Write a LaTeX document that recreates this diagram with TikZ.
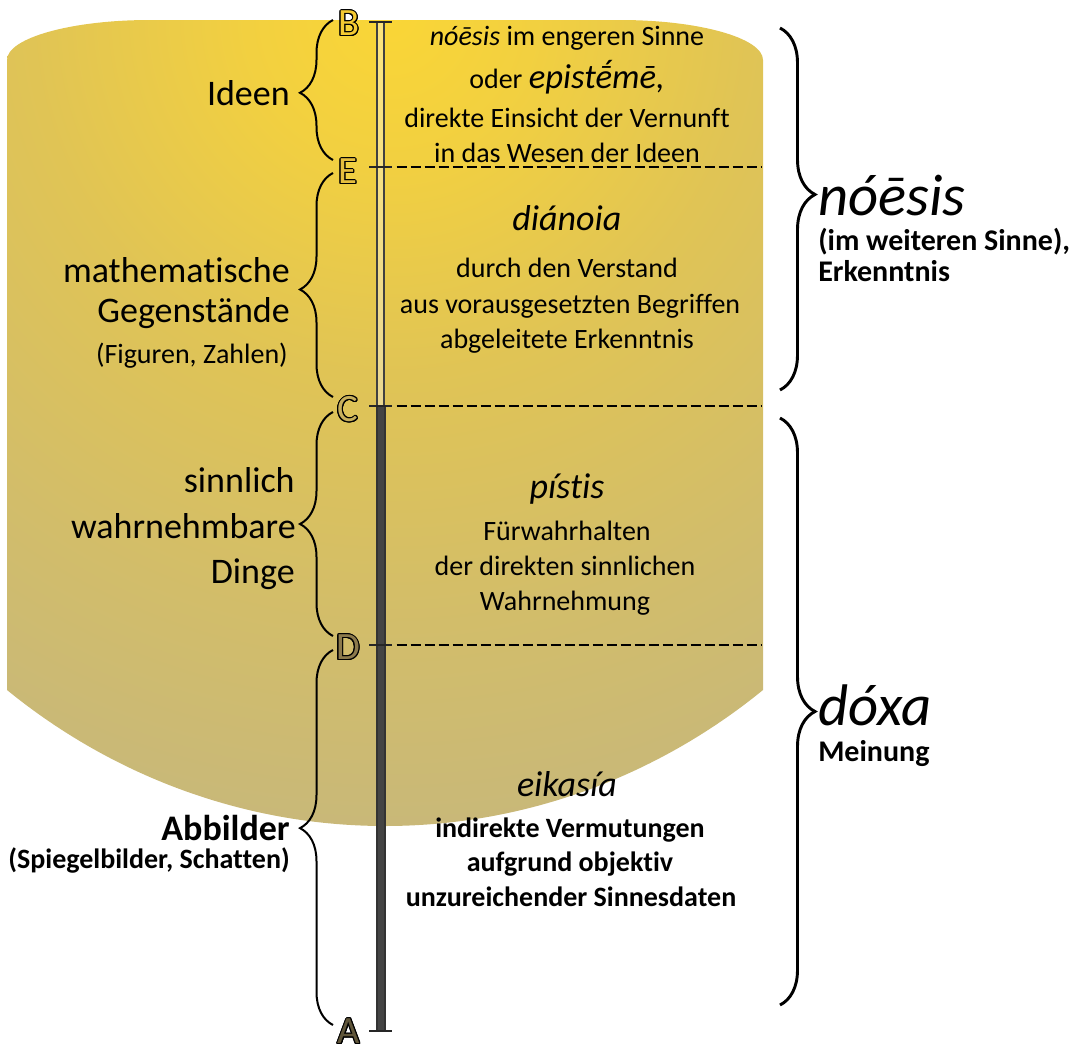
\documentclass[tikz,border=0pt]{standalone}
\usepackage{fontspec}
\setmainfont{Carlito}[Ligatures=NoCommon]
\usepackage{contour}
\contourlength{0.8pt}
\usetikzlibrary{decorations.pathreplacing}
\definecolor{g0}{RGB}{250,214,54}
\definecolor{g1}{RGB}{242,208,64}
\definecolor{g2}{RGB}{224,196,85}
\definecolor{g3}{RGB}{210,189,106}
\definecolor{g4}{RGB}{198,183,124}
\definecolor{g5}{RGB}{189,177,137}
\definecolor{g6}{RGB}{182,173,144}
\definecolor{bfill}{RGB}{245,202,50}
\definecolor{efill}{RGB}{230,190,62}
\definecolor{cfill}{RGB}{200,176,92}
\definecolor{dfill}{RGB}{140,122,76}
\definecolor{afill}{RGB}{96,86,58}
\definecolor{barcol}{RGB}{68,68,68}
\pgfdeclareradialshading{bgshade}{\pgfpoint{0bp}{0bp}}{color(0bp)=(g0); color(4bp)=(g1); color(10bp)=(g2); color(17bp)=(g3); color(24bp)=(g4); color(32bp)=(g5); color(41bp)=(g6); color(50bp)=(g6)}
\begin{document}
\begin{tikzpicture}[x=0.75pt,y=-0.75pt,
  body/.style={font=\fontsize{21}{25}\selectfont, anchor=base, inner sep=0pt},
  bodyb/.style={font=\fontsize{21}{25}\selectfont\bfseries, anchor=base, inner sep=0pt},
  head/.style={font=\fontsize{27}{32}\selectfont\itshape, anchor=base, inner sep=0pt},
  lab/.style={font=\fontsize{27}{32}\selectfont, anchor=base east, inner sep=0pt},
  sublab/.style={font=\fontsize{21}{25}\selectfont, anchor=base east, inner sep=0pt},
  big/.style={font=\fontsize{44}{50}\selectfont\itshape, anchor=base west, inner sep=0pt},
  rsub/.style={font=\fontsize{22.5}{26}\selectfont\bfseries, anchor=base west, inner sep=0pt},
  letter/.style={font=\fontsize{29}{32}\selectfont, inner sep=0pt},
  lbrace/.style={decorate, decoration={brace, amplitude=24.75pt}, line width=1.5pt},
  rbrace/.style={decorate, decoration={brace, amplitude=26.25pt}, line width=2.2pt},
  tick/.style={line width=1.2pt, draw=black!85},
  sep/.style={dash pattern=on 7.5pt off 3pt, line width=0.8pt},
  sepc/.style={dash pattern=on 7.5pt off 3pt, line width=1.5pt}]
\useasboundingbox (0,0) rectangle (1083,1046);
% background shape
\begin{scope}
\clip (7,60) .. controls (7,38) and (71,20) .. (150,20) -- (620,20)
  .. controls (699,20) and (763,38) .. (763,60) -- (763,690)
  .. controls (655.9,777.3) and (523.2,826) .. (385,826)
  .. controls (246.8,826) and (114.1,777.3) .. (7,690) -- cycle;
\shade[shading=bgshade] (390,15) circle (900);
\end{scope}
% scale bar
\coordinate (tB) at (380.5,22);
\coordinate (tE) at (380.5,167);
\coordinate (tC) at (380.5,406);
\coordinate (tD) at (380.5,645);
\coordinate (tA) at (380.5,1031);
\draw[line width=1pt, draw=black!75, fill=white, fill opacity=0.35] (377,22) rectangle (384,406);
\draw[line width=1pt, draw=black!80, fill=barcol] (377,406) rectangle (385,1031);
\foreach \t in {tB,tE,tC,tD,tA} \draw[tick] ([xshift=-8.5pt]\t) -- ([xshift=8.5pt]\t);
% dashed separators
\coordinate (eR) at (762,167);
\coordinate (cR) at (762,406);
\coordinate (dR) at (762,645);
\draw[sep] ([xshift=12pt]tE) -- (eR);
\draw[sepc] ([xshift=12pt]tC) -- (cR);
\draw[sep] ([xshift=12pt]tD) -- (dR);
% letters
\node[letter, text=bfill] (B) at (349,24) {\contour{black}{B}};
\node[letter, text=efill] (E) at (348,172) {\contour{black}{E}};
\node[letter, text=cfill] (C) at (348,410) {\contour{black}{C}};
\node[letter, text=dfill] (D) at (348,648) {\contour{black}{D}};
\node[letter, text=afill] (A) at (349,1032) {\contour{black}{A}};
% left braces
\coordinate (l1a) at (333,160); \coordinate (l1b) at (333,20);
\coordinate (l2a) at (333,397); \coordinate (l2b) at (333,173);
\coordinate (l3a) at (333,636); \coordinate (l3b) at (333,412);
\coordinate (l4a) at (333,1025); \coordinate (l4b) at (333,650);
\draw[lbrace, decoration={aspect=0.48}] (l1a) -- (l1b);
\draw[lbrace, decoration={aspect=0.48}] (l2a) -- (l2b);
\draw[lbrace, decoration={aspect=0.5}] (l3a) -- (l3b);
\draw[lbrace, decoration={aspect=0.525}] (l4a) -- (l4b);
% right braces
\coordinate (r1a) at (780,28); \coordinate (r1b) at (780,390);
\coordinate (r2a) at (780,418); \coordinate (r2b) at (780,1005);
\draw[rbrace, decoration={aspect=0.46}] (r1a) -- (r1b);
\draw[rbrace, decoration={aspect=0.5}] (r2a) -- (r2b);
% left labels
\node[lab] (ideen) at (290,105) {Ideen};
\node[lab] (math1) at (290,282) {mathematische};
\node[lab] (math2) at (290,322) {Gegenstände};
\node[sublab] (math3) at (288,363) {(Figuren, Zahlen)};
\node[lab] (sin1) at (295,492) {sinnlich};
\node[lab] (sin2) at (296,538) {wahrnehmbare};
\node[lab] (sin3) at (295,583) {Dinge};
\node[lab, font=\fontsize{27}{32}\selectfont\bfseries] (abb1) at (290,840) {Abbilder};
\node[sublab, font=\fontsize{21}{25}\selectfont\bfseries] (abb2) at (290,868) {(Spiegelbilder, Schatten)};
% centre texts
\node[body] (n1) at (567,45) {\textit{nóēsis} im engeren Sinne};
\node[body] (n2) at (567,88) {oder {\fontsize{26}{30}\selectfont\itshape epistḗmē,}};
\node[body] (n3) at (567,127) {direkte Einsicht der Vernunft};
\node[body] (n4) at (567,162) {in das Wesen der Ideen};
\node[head] (di0) at (567,230) {diánoia};
\node[body] (di1) at (567,277) {durch den Verstand};
\node[body] (di2) at (570,313) {aus vorausgesetzten Begriffen};
\node[body] (di3) at (567,348) {abgeleitete Erkenntnis};
\node[head] (pi0) at (567,498) {pístis};
\node[body] (pi1) at (567,540) {Fürwahrhalten};
\node[body] (pi2) at (565,575) {der direkten sinnlichen};
\node[body] (pi3) at (565,610) {Wahrnehmung};
\node[head] (ei0) at (567,796) {eikasía};
\node[bodyb] (ei1) at (570,837) {indirekte Vermutungen};
\node[bodyb] (ei2) at (570,871) {aufgrund objektiv};
\node[bodyb] (ei3) at (571,906) {unzureichender Sinnesdaten};
% right labels
\node[big] (noe) at (818,215) {nóēsis};
\node[rsub] (noe1) at (818,250) {(im weiteren Sinne),};
\node[rsub] (noe2) at (818,281) {Erkenntnis};
\node[big] (dox) at (818,725) {dóxa};
\node[rsub] (dox1) at (818,761) {Meinung};
\end{tikzpicture}
\end{document}
